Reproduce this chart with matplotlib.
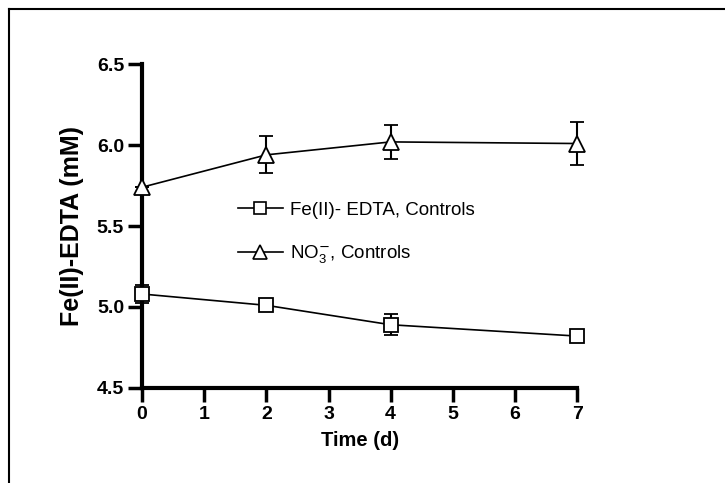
import numpy as np
import matplotlib
matplotlib.use("Agg")
import matplotlib.pyplot as plt
from matplotlib.lines import Line2D

plt.rcParams["font.family"] = ["Liberation Sans", "DejaVu Sans"]
plt.rcParams["mathtext.fontset"] = "custom"
plt.rcParams["mathtext.rm"] = "Liberation Sans"
plt.rcParams["mathtext.it"] = "Liberation Sans"

# data
days = [0, 2, 4, 7]
fe_edta = [5.08, 5.01, 4.89, 4.82]
fe_edta_err = [0.055, 0.02, 0.065, 0.01]
nitrate = [5.74, 5.94, 6.02, 6.01]
nitrate_err = [0.0, 0.115, 0.105, 0.13]

x_ticks = [0, 1, 2, 3, 4, 5, 6, 7]
y_ticks = [4.5, 5.0, 5.5, 6.0, 6.5]

fe_label = "Fe(II)- EDTA, Controls"
no3_label = r"NO$_3^{\mathsf{-}}$, Controls"

fig = plt.figure(figsize=(7.25, 4.83), dpi=100)
ax = fig.add_axes([0.196, 0.197, 0.600, 0.670])

style = dict(color="black", lw=1.2, mfc="white", mec="black", mew=1.3,
             elinewidth=1.5, capsize=5, capthick=1.5, clip_on=False, zorder=3)
ax.errorbar(days, fe_edta, yerr=fe_edta_err, marker="s", ms=10, **style)
ax.errorbar(days, nitrate, yerr=nitrate_err, marker="^", ms=12, **style)

ax.set_xlim(0, 7)
ax.set_ylim(4.5, 6.5)
ax.set_xticks(x_ticks)
ax.set_yticks(y_ticks)
ax.set_yticklabels([f"{v:.1f}" for v in y_ticks])

for side in ("top", "right"):
    ax.spines[side].set_visible(False)
for side in ("left", "bottom"):
    ax.spines[side].set_linewidth(3)
ax.tick_params(direction="out", length=10, width=2.5, labelsize=14, pad=3)
for lab in ax.get_xticklabels() + ax.get_yticklabels():
    lab.set_fontweight("bold")

ax.set_xlabel("Time (d)", fontsize=14.5, fontweight="bold", labelpad=6)
ax.set_ylabel("Fe(II)-EDTA (mM)", fontsize=18, fontweight="bold", labelpad=9)

# legend handles carry no error bars in the original
handles = [
    Line2D([], [], color="black", lw=1.2, marker="s", ms=9, mfc="white", mec="black", mew=1.2),
    Line2D([], [], color="black", lw=1.2, marker="^", ms=10, mfc="white", mec="black", mew=1.2),
]
ax.legend(handles, [fe_label, no3_label], loc="upper left",
          bbox_to_anchor=(0.22, 0.575), frameon=False, fontsize=13.5,
          handlelength=2.4, handletextpad=0.4, labelspacing=1.3,
          borderpad=0, borderaxespad=0)

# outer frame of the original picture
fig.add_artist(Line2D([0.0124, 0.0124], [0.0, 0.981], color="black", lw=1.5,
                      transform=fig.transFigure))
fig.add_artist(Line2D([0.0124, 1.0], [0.981, 0.981], color="black", lw=1.5,
                      transform=fig.transFigure))

fig.savefig("out.png", dpi=100)
